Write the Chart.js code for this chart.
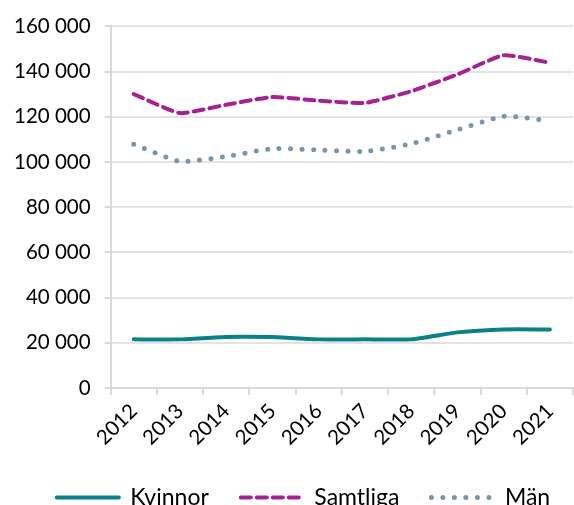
<!DOCTYPE html>
<html>
<head>
<meta charset="utf-8">
<script src="https://cdn.jsdelivr.net/npm/chart.js@4.4.1/dist/chart.umd.min.js"></script>
<style>
  html, body { margin: 0; padding: 0; background: #fff; overflow: hidden; }
  #wrap { width: 574px; height: 519px; position: relative; }
</style>
</head>
<body>
<div id="wrap"><canvas id="chart"></canvas></div>
<script>
const years = ['2012', '2013', '2014', '2015', '2016', '2017', '2018', '2019', '2020', '2021'];
const kvinnor = [21500, 21500, 22600, 22500, 21500, 21500, 21500, 24600, 25900, 25900];
const samtliga = [130000, 121600, 125300, 128700, 127100, 126100, 131300, 138700, 147200, 143900];
const man = [107800, 100200, 102400, 105900, 105300, 104600, 108000, 114200, 120200, 118200];
const yTicks = [0, 20000, 40000, 60000, 80000, 100000, 120000, 140000, 160000];

const FONT = 'Lato, "Open Sans", sans-serif';

// 160000 -> "160 000"
const fmt = (v) => String(v).replace(/\B(?=(\d{3})+(?!\d))/g, ' ');

// legend sits a bit right of centre in the original
const shiftLegend = {
  id: 'shiftLegend',
  afterLayout(chart) {
    chart.legend.left += 17;
    chart.legend.right += 17;
  }
};

const ctx = document.getElementById('chart').getContext('2d');
new Chart(ctx, {
  type: 'line',
  data: {
    labels: years,
    datasets: [
      {
        label: 'Kvinnor',
        data: kvinnor,
        borderColor: '#0a8285',
        backgroundColor: '#0a8285',
        borderWidth: 4,
        borderCapStyle: 'round',
        pointRadius: 0,
        tension: 0.15
      },
      {
        label: 'Samtliga',
        data: samtliga,
        borderColor: '#a4238f',
        backgroundColor: '#a4238f',
        borderWidth: 4,
        borderDash: [10, 6],
        borderCapStyle: 'round',
        pointRadius: 0,
        tension: 0.15
      },
      {
        label: 'Män',
        data: man,
        borderColor: '#7896a6',
        backgroundColor: '#7896a6',
        borderWidth: 5,
        borderDash: [0, 11.5],
        borderCapStyle: 'round',
        pointRadius: 0,
        tension: 0.15
      }
    ]
  },
  plugins: [shiftLegend],
  options: {
    responsive: true,
    maintainAspectRatio: false,
    animation: false,
    layout: { padding: { left: 0, right: 1, top: 15, bottom: 0 } },
    plugins: {
      tooltip: { enabled: false },
      legend: {
        position: 'bottom',
        labels: {
          usePointStyle: true,
          pointStyle: 'line',
          pointStyleWidth: 62,
          boxHeight: 22,
          padding: 32,
          color: '#000',
          font: { family: FONT, size: 23 },
          generateLabels(chart) {
            return chart.data.datasets.map((ds, i) => ({
              text: ds.label,
              datasetIndex: i,
              strokeStyle: ds.borderColor,
              fillStyle: ds.borderColor,
              lineWidth: ds.borderWidth,
              lineDash: ds.borderDash || [],
              lineCap: 'round',
              pointStyle: 'line',
              fontColor: '#000'
            }));
          }
        }
      }
    },
    scales: {
      x: {
        offset: true,
        grid: {
          offset: true,
          drawOnChartArea: false,
          drawTicks: true,
          tickLength: 7,
          color: '#d9d9d9',
          lineWidth: 2
        },
        border: { color: '#d9d9d9', width: 2 },
        ticks: {
          minRotation: 45,
          maxRotation: 45,
          color: '#000',
          padding: 4,
          font: { family: FONT, size: 20.5 }
        }
      },
      y: {
        min: 0,
        max: 160000,
        afterBuildTicks(axis) {
          axis.ticks = yTicks.map(v => ({ value: v }));
        },
        grid: {
          color: '#e3e3e3',
          lineWidth: 2,
          tickLength: 6,
          tickColor: '#d9d9d9'
        },
        border: { color: '#d9d9d9', width: 2 },
        ticks: {
          color: '#000',
          padding: 14,
          font: { family: FONT, size: 20.5 },
          callback: (v) => fmt(v)
        }
      }
    }
  }
});
</script>
</body>
</html>
